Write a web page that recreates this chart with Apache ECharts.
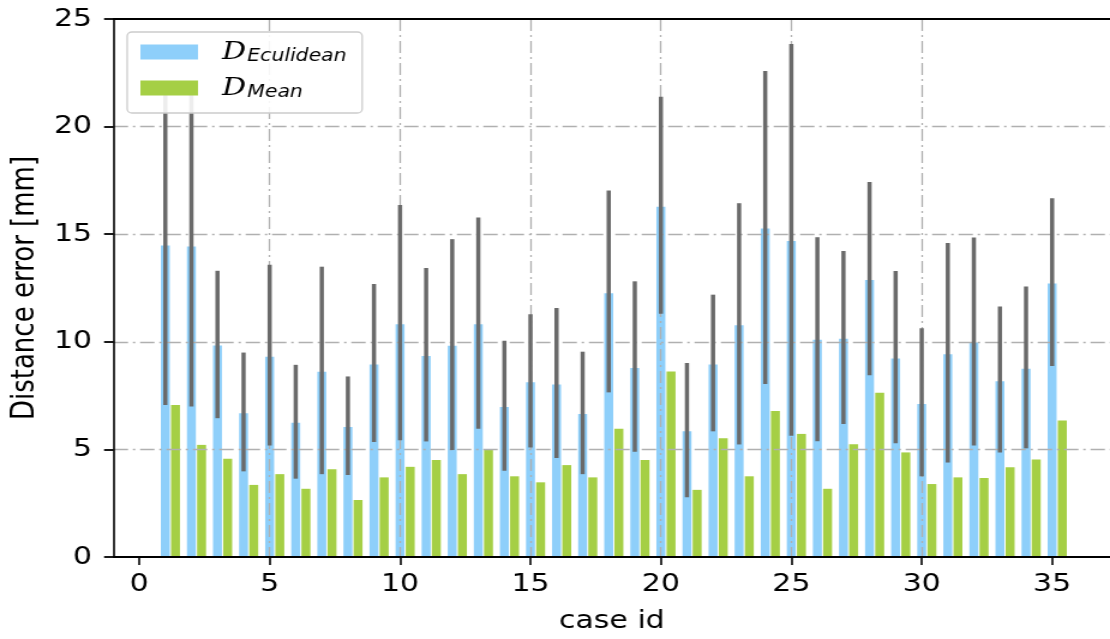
<!DOCTYPE html>
<html>
<head>
<meta charset="utf-8">
<script src="https://cdn.jsdelivr.net/npm/echarts@6/dist/echarts.min.js"></script>
<style>
  html, body { margin: 0; padding: 0; background: #fff; overflow: hidden; }
  /* the reference figure is a little wider than tall, so the chart is drawn narrower and stretched */
  #main { width: 925px; height: 639px; transform: scaleX(1.2); transform-origin: 0 0; }
</style>
</head>
<body>
<div id="main"></div>
<script>
// case ids 1..35
var caseIds = [1,2,3,4,5,6,7,8,9,10,11,12,13,14,15,16,17,18,19,20,21,22,23,24,25,26,27,28,29,30,31,32,33,34,35];
// D_Eculidean: mean (bar) and low/high of the error bar
var eucMean = [14.48,14.43,9.83,6.68,9.30,6.24,8.61,6.04,8.94,10.81,9.34,9.82,10.81,6.97,8.12,8.01,6.64,12.26,8.78,16.27,5.84,8.94,10.77,15.26,14.68,10.09,10.14,12.87,9.22,7.11,9.42,9.97,8.17,8.75,12.71];
var eucLow = [7.06,6.99,6.45,3.98,5.18,3.64,3.85,3.81,5.34,5.43,5.37,4.97,5.96,4.01,5.09,4.60,3.85,7.65,4.89,11.30,2.78,5.84,5.23,8.04,5.64,5.38,6.18,8.44,5.28,3.75,4.39,5.18,4.86,5.05,8.87];
var eucHigh = [21.90,21.85,13.30,9.50,13.58,8.93,13.49,8.39,12.69,16.36,13.43,14.77,15.78,10.05,11.28,11.57,9.54,17.03,12.81,21.39,9.01,12.19,16.44,22.58,23.84,14.86,14.22,17.43,13.29,10.63,14.59,14.85,11.64,12.57,16.67];
// D_Mean
var meanVals = [7.06,5.21,4.56,3.35,3.85,3.17,4.08,2.65,3.70,4.19,4.51,3.85,4.97,3.75,3.47,4.27,3.70,5.96,4.51,8.62,3.12,5.52,3.75,6.79,5.72,3.17,5.24,7.63,4.86,3.39,3.70,3.67,4.17,4.53,6.34];
var xTicks = [0,5,10,15,20,25,30,35];

var blue = '#8ecffa';
var green = '#a5cf45';
var barHalf = 0.172;

function zip2(a, b) {
  var out = [];
  for (var i = 0; i < a.length; i++) out.push([a[i], b[i]]);
  return out;
}

function barRender(offset, color) {
  return function (params, api) {
    var x = api.value(0), v = api.value(1);
    var p0 = api.coord([x + offset - barHalf, v]);
    var p1 = api.coord([x + offset + barHalf, 0]);
    return {
      type: 'rect',
      shape: { x: p0[0], y: p0[1], width: p1[0] - p0[0], height: p1[1] - p0[1] },
      style: { fill: color }
    };
  };
}

var errData = [];
for (var i = 0; i < caseIds.length; i++) errData.push([caseIds[i], eucLow[i], eucHigh[i]]);

var myChart = echarts.init(document.getElementById('main'));

var gridLine = { color: '#b0b0b0', width: 1.3, type: [12, 4, 2, 4] };

var option = {
  animation: false,
  textStyle: { fontFamily: 'DejaVu Sans' },
  grid: { left: 94, right: 0, top: 19, bottom: 75 },
  legend: {
    left: 106, top: 32, orient: 'vertical', z: 10,
    padding: [7, 13, 12, 11],
    itemGap: 10,
    itemWidth: 48, itemHeight: 15,
    backgroundColor: 'rgba(255,255,255,0.88)',
    borderColor: '#cccccc', borderWidth: 1.3, borderRadius: 4,
    data: [
      { name: 'euc', icon: 'rect', itemStyle: { color: blue } },
      { name: 'mean', icon: 'rect', itemStyle: { color: green } }
    ],
    formatter: function (name) {
      return name === 'euc' ? '{g|}{d|D}{s|Eculidean}' : '{g|}{d|D}{s|Mean}';
    },
    textStyle: {
      rich: {
        g: { width: 15, lineHeight: 26 },
        d: { fontFamily: 'DejaVu Serif', fontStyle: 'italic', fontSize: 25, color: '#000', lineHeight: 26 },
        s: { fontFamily: 'DejaVu Sans', fontStyle: 'italic', fontSize: 17, color: '#000', lineHeight: 26, padding: [9, 0, 0, 1] }
      }
    }
  },
  xAxis: [{
    type: 'value', min: -0.98, max: 37.22, z: 3,
    name: 'case id', nameLocation: 'middle', nameGap: 52,
    nameTextStyle: { fontSize: 25, color: '#000' },
    axisLine: { onZero: false, lineStyle: { color: '#000', width: 1.8 } },
    axisTick: { length: 8, lineStyle: { color: '#000', width: 1.6 }, customValues: xTicks },
    axisLabel: { fontSize: 25, color: '#000', margin: 15, customValues: xTicks },
    splitLine: { show: true, showMinLine: false, showMaxLine: false, lineStyle: gridLine, customValues: xTicks }
  }, {
    // top spine only
    type: 'value', position: 'top', min: -0.98, max: 37.22, z: 4,
    axisLine: { show: true, onZero: false, lineStyle: { color: '#000', width: 1.8 } },
    axisTick: { show: false }, axisLabel: { show: false }, splitLine: { show: false }
  }],
  yAxis: {
    type: 'value', min: 0, max: 25, interval: 5, z: 3,
    name: 'Distance error [mm]', nameLocation: 'middle', nameGap: 58,
    nameTextStyle: { fontSize: 26, color: '#000' },
    axisLine: { show: true, onZero: false, lineStyle: { color: '#000', width: 1.6 } },
    axisTick: { show: true, length: 8, lineStyle: { color: '#000', width: 1.8 } },
    axisLabel: { fontSize: 25, color: '#000', margin: 18 },
    splitLine: { show: true, showMinLine: false, showMaxLine: false, lineStyle: gridLine }
  },
  series: [
    {
      name: 'euc', type: 'custom', z: 2, xAxisIndex: 0,
      itemStyle: { color: blue },
      renderItem: barRender(0, blue),
      data: zip2(caseIds, eucMean)
    },
    {
      name: 'mean', type: 'custom', z: 2, xAxisIndex: 0,
      itemStyle: { color: green },
      renderItem: barRender(0.39, green),
      data: zip2(caseIds, meanVals)
    },
    {
      name: 'err', type: 'custom', z: 5, xAxisIndex: 0,
      renderItem: function (params, api) {
        var a = api.coord([api.value(0), api.value(1)]);
        var b = api.coord([api.value(0), api.value(2)]);
        return {
          type: 'line',
          shape: { x1: a[0], y1: a[1], x2: b[0], y2: b[1] },
          style: { stroke: '#6a6a6a', lineWidth: 3.5 }
        };
      },
      data: errData
    }
  ]
};

myChart.setOption(option);
</script>
</body>
</html>
